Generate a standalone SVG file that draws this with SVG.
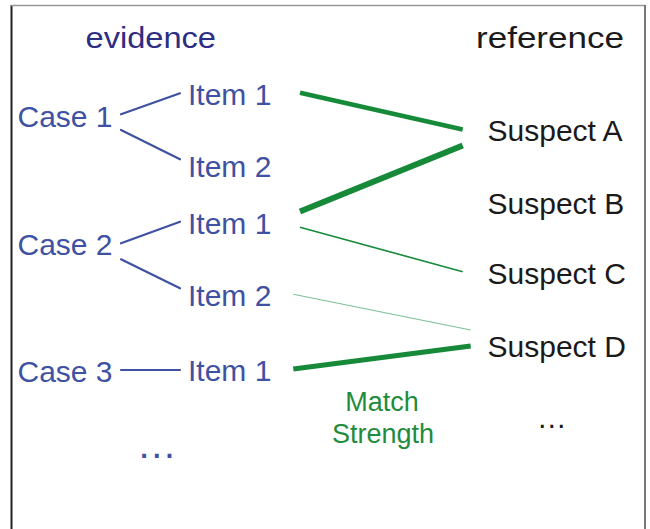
<svg xmlns="http://www.w3.org/2000/svg" width="650" height="529" viewBox="0 0 650 529">
<style>
text{font-family:"Liberation Sans",Arial,sans-serif;font-size:30px}
.ev{fill:#3f51a3}
.hd{fill:#2d2d84}
.rf{fill:#1a1a1a}
.gr{fill:#1e8c3c;font-size:27px}
.bl{stroke:#3f51a3;stroke-width:2.2;fill:none;stroke-linecap:round}
.g{stroke:#178a3a;fill:none}
</style>
<rect width="650" height="529" fill="#fff"/>
<g id="frame">
<line x1="11.5" y1="5" x2="11.5" y2="529" stroke="#222" stroke-width="2"/>
<line x1="11" y1="5.5" x2="645" y2="5.5" stroke="#999" stroke-width="1.5"/>
<line x1="645" y1="5" x2="645" y2="529" stroke="#777" stroke-width="2"/>
</g>
<g id="hdr-evidence"><text class="hd" x="85.5" y="48" textLength="130.5" lengthAdjust="spacingAndGlyphs">evidence</text></g>
<g id="hdr-reference"><text class="rf" x="476" y="48" textLength="148" lengthAdjust="spacingAndGlyphs">reference</text></g>
<g id="case1"><text class="ev" x="17.5" y="127">Case 1</text></g>
<g id="case2"><text class="ev" x="17.5" y="255">Case 2</text></g>
<g id="case3"><text class="ev" x="17.5" y="382">Case 3</text></g>
<g id="c1-item1"><text class="ev" x="188" y="105">Item 1</text></g>
<g id="c1-item2"><text class="ev" x="188" y="177">Item 2</text></g>
<g id="c2-item1"><text class="ev" x="188" y="234">Item 1</text></g>
<g id="c2-item2"><text class="ev" x="188" y="305.5">Item 2</text></g>
<g id="c3-item1"><text class="ev" x="188" y="381">Item 1</text></g>
<g id="ev-more"><text class="ev" x="156.7" y="458" text-anchor="middle" style="font-size:40px">…</text></g>
<g id="suspA"><text class="rf" x="487.5" y="141">Suspect A</text></g>
<g id="suspB"><text class="rf" x="487.5" y="213.5">Suspect B</text></g>
<g id="suspC"><text class="rf" x="487.5" y="283.5">Suspect C</text></g>
<g id="suspD"><text class="rf" x="487.5" y="357">Suspect D</text></g>
<g id="ref-more"><text class="rf" x="551.7" y="428" text-anchor="middle">…</text></g>
<g id="label-match"><text class="gr" x="382" y="411" text-anchor="middle">Match</text><text class="gr" x="383" y="443" text-anchor="middle">Strength</text></g>
<g id="connectors">
<line class="bl" x1="121" y1="114.3" x2="180" y2="93.3"/>
<line class="bl" x1="121" y1="130" x2="180" y2="159.3"/>
<line class="bl" x1="121" y1="243.3" x2="180" y2="221.7"/>
<line class="bl" x1="121" y1="259.3" x2="180" y2="288.3"/>
<line class="bl" x1="121" y1="370" x2="180" y2="370"/>
<line class="g" x1="300" y1="92.7" x2="462.7" y2="129.5" stroke-width="4.5"/>
<line class="g" x1="300" y1="211.5" x2="462.7" y2="145.5" stroke-width="6"/>
<line class="g" x1="300" y1="227.3" x2="462.7" y2="271.7" stroke-width="1.6"/>
<line x1="293.3" y1="294.3" x2="470.7" y2="330" stroke="#7cc096" stroke-width="1.1"/>
<line class="g" x1="293.3" y1="369" x2="470.7" y2="346" stroke-width="5"/>
</g>
</svg>
